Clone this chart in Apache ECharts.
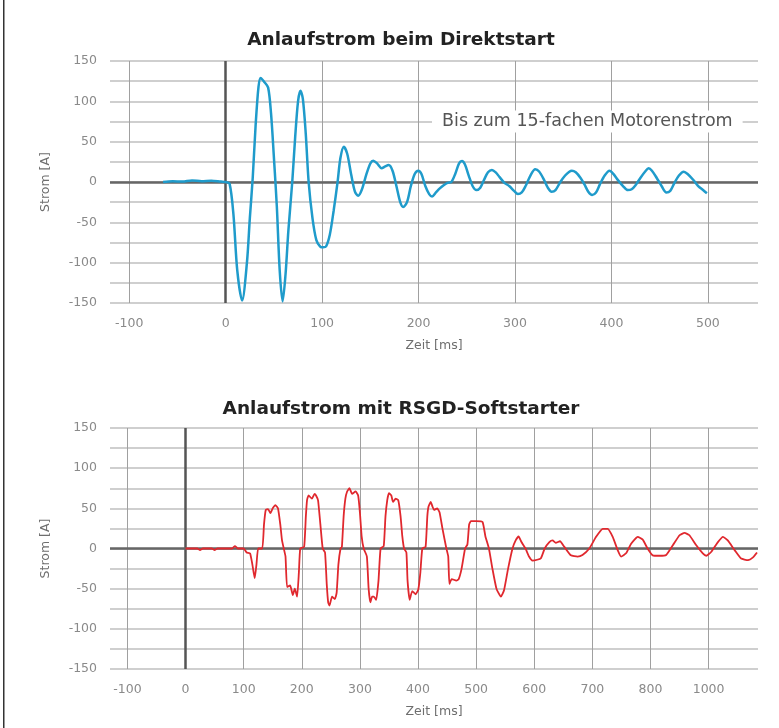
<!DOCTYPE html>
<html>
<head>
<meta charset="utf-8">
<script src="https://cdn.jsdelivr.net/npm/echarts@6/dist/echarts.min.js"></script>
<style>
html,body{margin:0;padding:0;background:#fff;}
#chart{width:779px;height:728px;}
</style>
</head>
<body>
<div id="chart"></div>
<script>
// ---- Data ----
const titles = ['Anlaufstrom beim Direktstart', 'Anlaufstrom mit RSGD-Softstarter'];
const yName = 'Strom [A]';
const xName = 'Zeit [ms]';
const annotation = 'Bis zum 15-fachen Motorenstrom';

const yLabelTicks = [-150, -100, -50, 0, 50, 100, 150];

const topXTicks = [-100, 0, 100, 200, 300, 400, 500];
const topXLabels = ['-100', '0', '100', '200', '300', '400', '500'];

const softXTicks = [-100, 0, 100, 200, 300, 400, 500, 600, 700, 800, 900];
const softXLabels = ['-100', '0', '100', '200', '300', '400', '500', '600', '700', '800', '1000'];

// Direktstart (time ms, current A)
const topTime = [-65,-55,-45,-35,-25,-15,-5,0,4,8,12,17,22,25,28,31,34,36.3,40,44,47,50,53,56,59,62,65,69,72,75,77.5,80,83,86,90,94,98,101,104,108,112,116,119,122.5,126,130,134,137.4,141,146,150,153,157,161.7,165,169,173,177,181,184,188,192,196,199.7,203,207,211,214,218,222,226,230,234,238,242,245,248,252,256,260,264,268,272,276,280,284,289,294,299,303,307,311,316,321,325,330,334,338,342,347,352,356,359,363,368,372,376,380,384,388,393,398,402,407,412,417,421,425,430,435,438.6,442,447,452,457,461,465,470,475,479,485,490,495,499];
const topCurrent = [0,1,0.5,2,1,1.5,0.5,0,-2,-40,-110,-147,-100,-45,5,70,118,129,124,117,85,30,-30,-110,-148,-115,-60,0,55,100,113,103,60,0,-45,-72,-80,-81,-80,-65,-35,0,30,43.7,35,10,-12,-17,-10,10,23,26.4,23,17,19,21,14,-5,-25,-31,-25,-5,10,14,10,-5,-15,-18,-13,-8,-4,-1,0,10,23,26,22,8,-5,-10,-7,3,12,15,12,6,-1,-5,-11,-15,-13,-5,8,15.7,13,3,-7,-12,-10,0,8,12.5,14,12,5,-3,-12,-16,-13,-3,8,14,10,2,-5,-10,-9,-4,5,13,17,14,5,-5,-13,-11,-2,8,12.8,10,2.5,-5,-10,-14];

// RSGD-Softstarter (time ms, current A)
const softTime = [0,20,25,30,45,50,55,80,85,90,100,105,111,115,119,122,125,132,135,138,142,146,150,154.6,159,163,166,169,172,174.7,180,184.5,188,192,195,197.4,204,207,209,211.7,217.5,222,224.5,228,232,236,240,243,245.4,247.7,252,256.9,260,263,266.7,269,272,275,278,282,286.6,292.6,297,300,303,306.5,312,315,318,321,324,328,332,335.6,341,344,347,350,354,357,361.5,366,370,373,376,380,382,385.6,390,395.8,400.5,404,407.4,413,416,418,421.8,425,427.5,433,437,442,448.8,452,454,458,466,470,475,481,485,488,491,500,511,516,522,528,535,542.6,548,555,562.6,568,573,578,585,591,597,605,611.5,618,626,631.6,637,644.3,651.8,663,674.6,683,694.8,706.4,717.8,726.4,735,743.6,749.4,758,766.7,778,786.7,795,803.9,815.5,827,838.5,850,858.6,867,878.8,890,896,904.7,916,924.7,933,944.8,956,967.8,976.4,983.3];
const softCurrent = [0,0,-2,0,0,-2,0,0,3,0,0,-5,-6,-20,-37,-20,0,0,30,48,49,44,50,54,50,30,10,0,-10,-48,-46,-58,-50,-60,-30,0,2,40,60,66,62,68,66,60,30,0,-5,-45,-67,-71,-60,-63,-55,-20,0,2,40,62,71,75,68,71,66,45,15,0,-10,-50,-67,-60,-60,-64,-40,0,3,40,60,69,66,58,62,60,40,15,0,-5,-40,-64,-53,-57,-51,-30,0,2,40,52,58,52,48,50,45,25,0,-10,-44,-38,-40,-38,-25,0,5,30,34,34,33,15,0,-25,-50,-60,-52,-25,0,10,15,8,0,-10,-15,-14,-12,0,8,10,7,9,2,-8.5,-10,-8,0,14.5,24.5,24.5,14.5,-2,-10,-6,6,14.5,11,0,-8.5,-9,-8,4,16.5,19.5,16.5,4,-6,-9,-4,8,14.5,10,-2,-12.5,-14.5,-11,-5];

// ---- Build ----
const zip = (a, b) => a.map((t, i) => [t, b[i]]);
const FONT = 'DejaVu Sans';
const labelColor = '#6e6e6e';

function xAxisCfg(gridIndex, min, max, ticks, labels) {
  return {
    type: 'value', gridIndex, min, max, interval: 10,
    name: xName, nameLocation: 'middle', nameGap: 36,
    nameTextStyle: {color: labelColor, fontFamily: FONT, fontSize: 12.5},
    axisLine: {show: false}, axisTick: {show: false}, splitLine: {show: false},
    axisLabel: {
      color: '#8a8a8a', fontFamily: FONT, fontSize: 12.5, margin: 14,
      showMinLabel: true, showMaxLabel: true,
      formatter: v => { const i = ticks.indexOf(Math.round(v)); return (i >= 0 && Math.abs(v - ticks[i]) < 1e-6) ? labels[i] : ''; }
    }
  };
}
function yAxisCfg(gridIndex) {
  return {
    type: 'value', gridIndex, min: -150, max: 150, interval: 25,
    name: yName, nameLocation: 'middle', nameGap: 58,
    nameTextStyle: {color: labelColor, fontFamily: FONT, fontSize: 12.5},
    axisLine: {show: false}, axisTick: {show: false},
    splitLine: {show: true, lineStyle: {color: '#cfcfcf', width: 2}},
    axisLabel: {
      color: '#8a8a8a', fontFamily: FONT, fontSize: 12.5, margin: 13,
      formatter: v => yLabelTicks.indexOf(v) >= 0 ? String(v) : ''
    }
  };
}
function gridLines(ticks) {
  return {
    silent: true, symbol: 'none', z: 1, animation: false,
    label: {show: false},
    lineStyle: {color: '#a0a0a0', width: 1, type: 'solid'},
    data: ticks.filter(t => t !== 0).map(t => ({xAxis: t}))
      .concat([{xAxis: 0, lineStyle: {color: '#555', width: 2.5}}, {yAxis: 0, lineStyle: {color: '#666', width: 2.5}}])
  };
}

const option = {
  animation: false,
  backgroundColor: '#fff',
  title: [
    {text: titles[0], left: 396, top: 26, textAlign: 'center', textStyle: {fontFamily: FONT, fontSize: 18.5, fontWeight: 'bold', color: '#222'}},
    {text: titles[1], left: 396, top: 395, textAlign: 'center', textStyle: {fontFamily: FONT, fontSize: 18.5, fontWeight: 'bold', color: '#222'}}
  ],
  grid: [
    {left: 110, right: 21, top: 61, height: 242},
    {left: 110, right: 21, top: 428, height: 241}
  ],
  xAxis: [
    xAxisCfg(0, -120, 552, topXTicks, topXLabels),
    xAxisCfg(1, -130, 985, softXTicks, softXLabels)
  ],
  yAxis: [yAxisCfg(0), yAxisCfg(1)],
  graphic: [
    {type: 'rect', left: 3, top: 0, shape: {width: 1.5, height: 728}, style: {fill: '#333'}}
  ],
  series: [
    {
      type: 'line', xAxisIndex: 0, yAxisIndex: 0, data: zip(topTime, topCurrent),
      showSymbol: false, smooth: 0.3, z: 3,
      lineStyle: {color: '#1f9bcb', width: 2.5},
      markLine: gridLines(topXTicks),
      markPoint: {
        symbol: 'rect', symbolSize: 0, z: 4,
        label: {show: true, position: 'inside', formatter: annotation, color: '#555', fontFamily: FONT, fontSize: 17.5,
          backgroundColor: '#fff', padding: [2, 10]},
        data: [{coord: [375, 75]}]
      }
    },
    {
      type: 'line', xAxisIndex: 1, yAxisIndex: 1, data: zip(softTime, softCurrent),
      showSymbol: false, smooth: 0.15, z: 3,
      lineStyle: {color: '#e0282e', width: 1.8},
      markLine: gridLines(softXTicks)
    }
  ]
};
const chart = echarts.init(document.getElementById('chart'), null, {renderer: 'canvas'});
chart.setOption(option);
</script>
</body>
</html>
